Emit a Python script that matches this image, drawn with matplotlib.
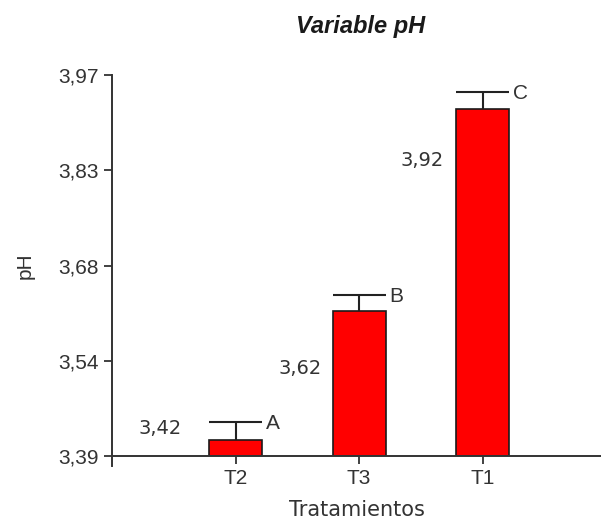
import numpy as np
import matplotlib
matplotlib.use("Agg")
import matplotlib.pyplot as plt

# datos
tratamientos = ['T2', 'T3', 'T1']
medias = [3.415, 3.610, 3.918]
errores = [0.026, 0.025, 0.026]
etiquetas_valor = ['3,42', '3,62', '3,92']
letras = ['A', 'B', 'C']
y_ticks = [3.39, 3.535, 3.68, 3.825, 3.97]
y_ticklabels = ['3,39', '3,54', '3,68', '3,83', '3,97']

txt = '#333333'
arial = 'Liberation Sans'
dejavu = 'DejaVu Sans'

fig = plt.figure(figsize=(6.01, 5.21), dpi=100)
ax = fig.add_axes([0.187, 0.1248, 0.813, 0.7312])

x = np.arange(1, len(tratamientos) + 1)
ancho = 0.43
medias = np.array(medias)
errores = np.array(errores)

ax.bar(x, medias - y_ticks[0], width=ancho, bottom=y_ticks[0],
       color='#ff0000', edgecolor='#1a1a1a', linewidth=1.2, zorder=2)

# barras de error solo hacia arriba, con tapa del ancho de la barra
ax.vlines(x, medias, medias + errores, color='#222222', linewidth=1.5, zorder=3)
ax.hlines(medias + errores, x - ancho / 2, x + ancho / 2,
          color='#222222', linewidth=1.5, zorder=3)

# letras de significancia a la derecha de la tapa
for xi, yi, l in zip(x, medias + errores, letras):
    ax.annotate(l, (xi + ancho / 2, yi), xytext=(4, -1), textcoords='offset pixels',
                ha='left', va='center', fontsize=15, family=arial, color=txt)

# valores a la izquierda de cada barra
desplaz = [(-76, 11), (-59, -57), (-60, -51)]
for xi, yi, lab, (dx, dy) in zip(x, medias, etiquetas_valor, desplaz):
    ax.annotate(lab, (xi, yi), xytext=(dx, dy), textcoords='offset pixels',
                ha='center', va='center', fontsize=14, family=dejavu, color=txt)

ax.set_xlim(0, 3.96)
ax.set_ylim(3.39, 3.97)
ax.set_xticks(x)
ax.set_xticklabels(tratamientos, fontsize=15, family=arial, color=txt)
ax.set_yticks(y_ticks)
ax.set_yticklabels(y_ticklabels, fontsize=15, family=arial, color=txt)
ax.tick_params(direction='out', length=5.5, width=1.3, color='#333333', pad=4)

for s in ['top', 'right']:
    ax.spines[s].set_visible(False)
for s in ['left', 'bottom']:
    ax.spines[s].set_linewidth(1.4)
    ax.spines[s].set_color('#333333')
ax.spines['left'].set_bounds(3.375, 3.97)

ax.set_xlabel('Tratamientos', fontsize=15, family=dejavu, color=txt, va='center')
ax.xaxis.set_label_coords(0.5, -0.142)
ax.set_ylabel('pH', fontsize=15, family=arial, color=txt, va='center')
ax.yaxis.set_label_coords(-0.179, 0.5)

ax.set_title('Variable pH', fontsize=17, family=arial, fontweight='bold',
             fontstyle='italic', color='#1a1a1a', x=0.507, y=1.110, pad=0)

fig.savefig('out.png', dpi=100)
